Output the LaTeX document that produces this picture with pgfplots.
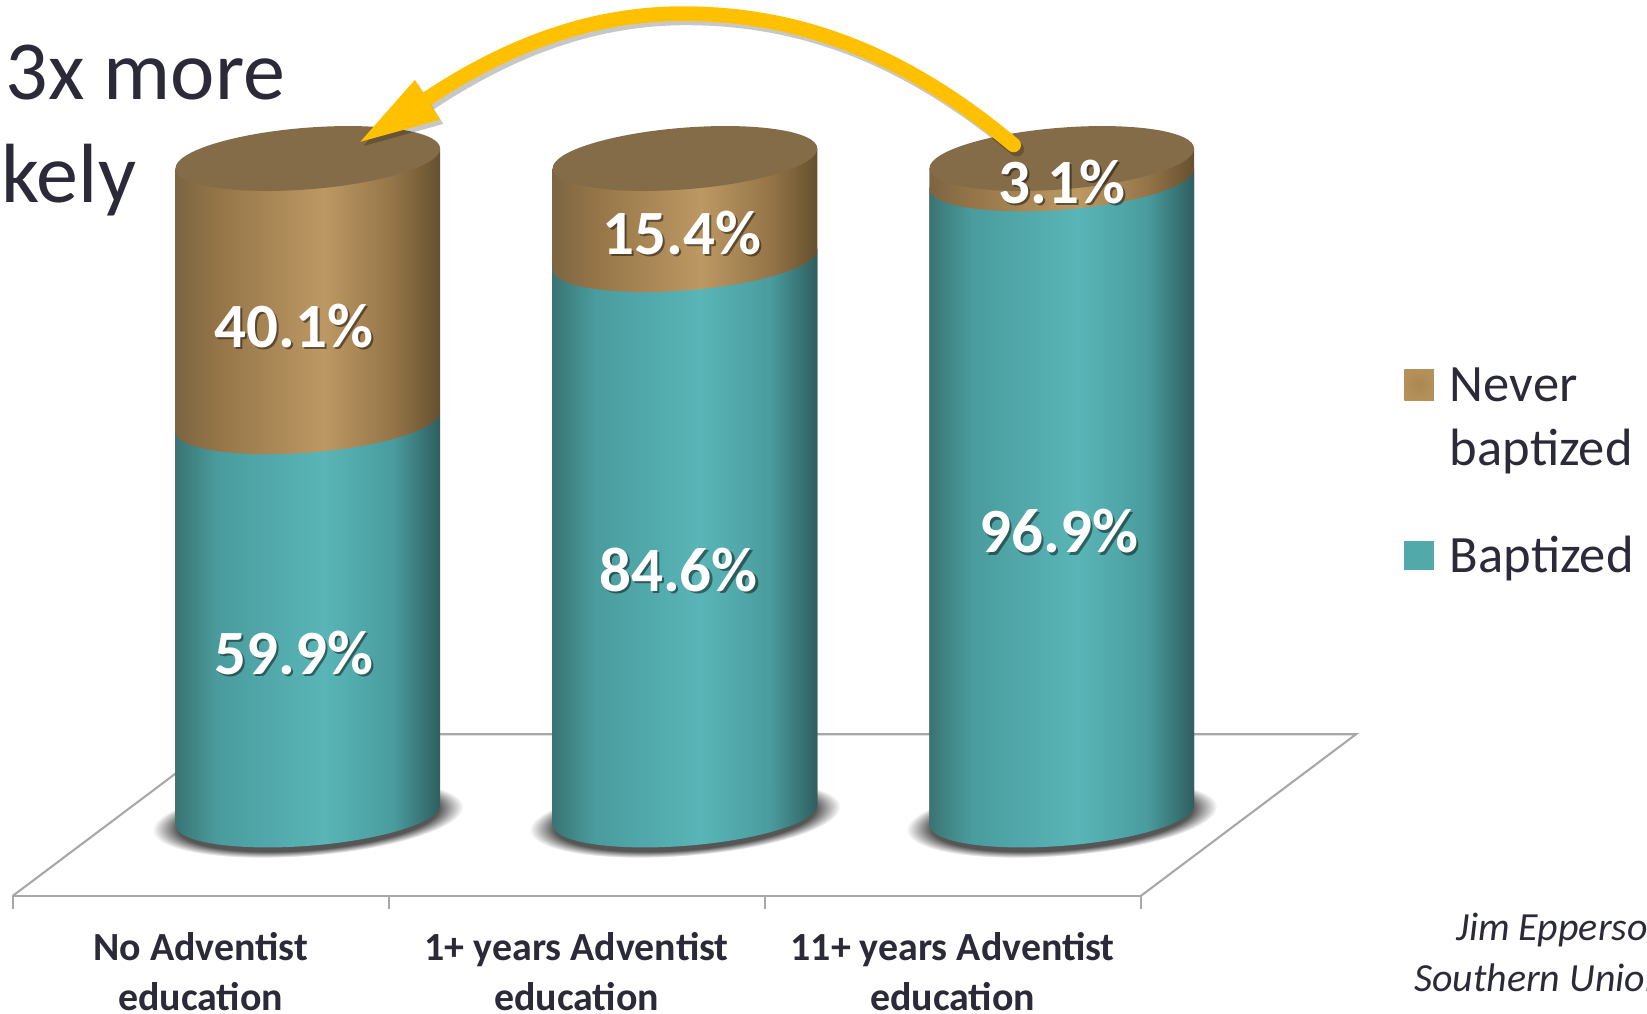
\documentclass[border=0pt]{standalone}
\usepackage{fontspec}
\setmainfont{Carlito}
\usepackage{pgfplots}
\pgfplotsset{compat=1.18}

\definecolor{inktext}{HTML}{2A2A38}
\definecolor{capbrown}{HTML}{856C49}
\definecolor{arrowgold}{HTML}{FFC000}
\definecolor{floorgray}{HTML}{A8A8A8}
\definecolor{tealA}{HTML}{3A7474}
\definecolor{tealB}{HTML}{4A9C9E}
\definecolor{tealC}{HTML}{59B5B7}
\definecolor{tealD}{HTML}{2F5E5F}
\definecolor{tealkey}{HTML}{52A9AA}
\definecolor{brownA}{HTML}{7C6543}
\definecolor{brownB}{HTML}{957548}
\definecolor{brownC}{HTML}{BC9863}
\definecolor{brownD}{HTML}{65502F}
\definecolor{brownkeyA}{HTML}{A98853}
\definecolor{brownkeyB}{HTML}{B59059}

% stops sit between 25bp and 75bp, that is the width of the bar
\pgfdeclarehorizontalshading{tealbar}{100bp}{
  color(0bp)=(tealA);color(25bp)=(tealA);color(33bp)=(tealB);
  color(53bp)=(tealC);color(66bp)=(tealB);color(75bp)=(tealD);color(100bp)=(tealD)}
\pgfdeclarehorizontalshading{brownbar}{100bp}{
  color(0bp)=(brownA);color(25bp)=(brownA);color(33bp)=(brownB);
  color(53bp)=(brownC);color(66bp)=(brownB);color(75bp)=(brownD);color(100bp)=(brownD)}
\pgfdeclareradialshading{baseshadow}{\pgfpointorigin}{
  color(0bp)=(black!72);color(21bp)=(black!66);color(25bp)=(white);color(50bp)=(white)}
\pgfdeclareradialshading{brownkey}{\pgfpointorigin}{
  color(0bp)=(brownkeyA);color(25bp)=(brownkeyB);color(50bp)=(brownkeyB)}

% discs of the cylinders, the canvas slant of the plot tilts them
% (0pt,0pt) and not (0,0): inside an axis (0,0) would mean axis cs
\pgfdeclareplotmark{tealdisc}{\shade[draw=none,shading=tealbar] (0pt,0pt) ellipse [x radius=63pt,y radius=14.7pt];}
\pgfdeclareplotmark{browndisc}{\shade[draw=none,shading=brownbar] (0pt,0pt) ellipse [x radius=63pt,y radius=14.7pt];}
\pgfdeclareplotmark{capdisc}{\fill[draw=none,capbrown] (0pt,0pt) ellipse [x radius=63pt,y radius=14.7pt];}
\pgfdeclareplotmark{shadowdisc}{\shade[draw=none,shading=baseshadow] (0pt,0pt) ellipse [x radius=74pt,y radius=18pt];}

\pgfplotsset{
  % same frame for both axes
  cylframe/.style={
    at={(6pt,56.17pt)},anchor=south west,
    scale only axis,
    width=537pt,height=426.5pt,
    xmin=-0.5,xmax=2.5,
    ymin=-12.48,ymax=124,
    clip=false,
  },
  % bars take the slant once
  cylA/.style={/tikz/transform canvas={yshift=-10.99pt,yslant=0.075}},
  cylB/.style={/tikz/transform canvas={yshift=-24.45pt,yslant=0.075}},
  cylC/.style={/tikz/transform canvas={yshift=-37.91pt,yslant=0.075}},
  % marks get the canvas transform twice, so half of it here
  capA/.style={/tikz/transform canvas={yshift=-5.495pt,yslant=0.0375}},
  capB/.style={/tikz/transform canvas={yshift=-12.225pt,yslant=0.0375}},
  capC/.style={/tikz/transform canvas={yshift=-18.955pt,yslant=0.0375}},
  tealcol/.style={ybar,bar shift=0pt,bar width=126pt,draw=none,shade,shading=tealbar},
  browncol/.style={ybar,bar shift=0pt,bar width=126pt,draw=none,shade,shading=brownbar},
  disc/.style={only marks,mark=#1},
}

\newcommand{\barlabel}[2]{%
  \node[text=black,opacity=.45,font=\fontsize{30}{30}\selectfont\bfseries] at ([shift={(1pt,-1pt)}]#1) {#2};
  \node[text=white,font=\fontsize{30}{30}\selectfont\bfseries] at (#1) {#2};}

\begin{document}
\begin{tikzpicture}
\path[use as bounding box] (0,0) rectangle (784pt,482.67pt);

% one unit is one pixel of a 1568 wide view, y counted from the top
\begin{scope}[shift={(0,482.67pt)},x=0.5pt,y=-0.5pt]
  \draw[floorgray,line width=1pt] (12,853) -- (217,699) -- (1291,699) -- (1086,853);
\end{scope}

% shadows in an axis of their own: marks come above the bars of the same axis
\begin{axis}[cylframe,hide axis]
  \addplot[capA,disc=shadowdisc] coordinates {(0.285,-0.5)};
  \addplot[capB,disc=shadowdisc] coordinates {(1.288,-0.5)};
  \addplot[capC,disc=shadowdisc] coordinates {(2.29,-0.5)};
\end{axis}

\begin{axis}[
  cylframe,
  axis y line=none,
  axis x line*=bottom,
  x axis line style={-,draw=floorgray,line width=1pt},
  xtick={0,1,2},
  xticklabels={No Adventist\\education,1+ years Adventist\\education,11+ years Adventist\\education},
  minor xtick={-0.5,0.5,1.5,2.5},
  major tick length=0pt,
  minor tick length=6pt,
  tick align=outside,
  minor tick style={draw=floorgray,line width=1pt},
  xticklabel style={align=center,text=inktext,yshift=-14pt,
    font=\fontsize{19}{23.5}\selectfont\bfseries},
]
  % first cylinder
  \addplot[capA,disc=tealdisc] coordinates {(0.285,0)};
  \addplot[cylA,browncol] coordinates {(0.285,100)};
  \addplot[cylA,tealcol] coordinates {(0.285,59.9)};
  \addplot[capA,disc=browndisc] coordinates {(0.285,59.9)};
  \addplot[capA,disc=capdisc] coordinates {(0.285,100)};
  % second cylinder
  \addplot[capB,disc=tealdisc] coordinates {(1.288,0)};
  \addplot[cylB,browncol] coordinates {(1.288,100)};
  \addplot[cylB,tealcol] coordinates {(1.288,84.6)};
  \addplot[capB,disc=browndisc] coordinates {(1.288,84.6)};
  \addplot[capB,disc=capdisc] coordinates {(1.288,100)};
  % third cylinder
  \addplot[capC,disc=tealdisc] coordinates {(2.29,0)};
  \addplot[cylC,browncol] coordinates {(2.29,100)};
  \addplot[cylC,tealcol] coordinates {(2.29,96.9)};
  \addplot[capC,disc=browndisc] coordinates {(2.29,96.9)};
  \addplot[capC,disc=capdisc] coordinates {(2.29,100)};
\end{axis}

\begin{scope}[shift={(0,482.67pt)},x=0.5pt,y=-0.5pt]
  % bar values
  \barlabel{280,310}{40.1\%}
  \barlabel{280,622}{59.9\%}
  \barlabel{649,222}{15.4\%}
  \barlabel{646,543}{84.6\%}
  \barlabel{1011,173}{3.1\%}
  \barlabel{1008,506}{96.9\%}

  % gold arrow, a soft copy below it as shadow
  \begin{scope}[shift={(3,4)},opacity=.22]
    \draw[black,line width=7pt,line cap=round] (965,138) .. controls (860,50) and (760,13) .. (650,13)
      .. controls (560,13) and (480,45) .. (405,95);
    \fill[black] (343,135) -- (395,76) -- (419,114) -- cycle;
  \end{scope}
  \draw[arrowgold,line width=7pt,line cap=round] (965,138) .. controls (860,50) and (760,13) .. (650,13)
    .. controls (560,13) and (480,45) .. (405,95);
  \fill[arrowgold] (343,135) -- (395,76) -- (419,114) -- cycle;

  % text on the left, cut by the page as in the slide
  \node[anchor=base west,inner sep=0pt,text=inktext,font=\fontsize{40}{40}\selectfont] at (5,95) {3x more};
  \node[anchor=base east,inner sep=0pt,text=inktext,font=\fontsize{40}{40}\selectfont] at (130,193) {likely};

  % legend
  \shade[shading=brownkey] (1337,352) rectangle (1365,381);
  \fill[tealkey] (1337,515) rectangle (1365,543);
  \node[anchor=base west,inner sep=0pt,text=inktext,font=\fontsize{25}{25}\selectfont] at (1380,382) {Never};
  \node[anchor=base west,inner sep=0pt,text=inktext,font=\fontsize{25}{25}\selectfont] at (1380,443) {baptized};
  \node[anchor=base west,inner sep=0pt,text=inktext,font=\fontsize{25}{25}\selectfont] at (1380,545) {Baptized};

  % source, runs off the page
  \node[anchor=base west,inner sep=0pt,text=inktext,font=\fontsize{19}{19}\selectfont\itshape] at (1386,895) {Jim Epperson};
  \node[anchor=base west,inner sep=0pt,text=inktext,font=\fontsize{19}{19}\selectfont\itshape] at (1346,944) {Southern Union};
\end{scope}
\end{tikzpicture}
\end{document}
